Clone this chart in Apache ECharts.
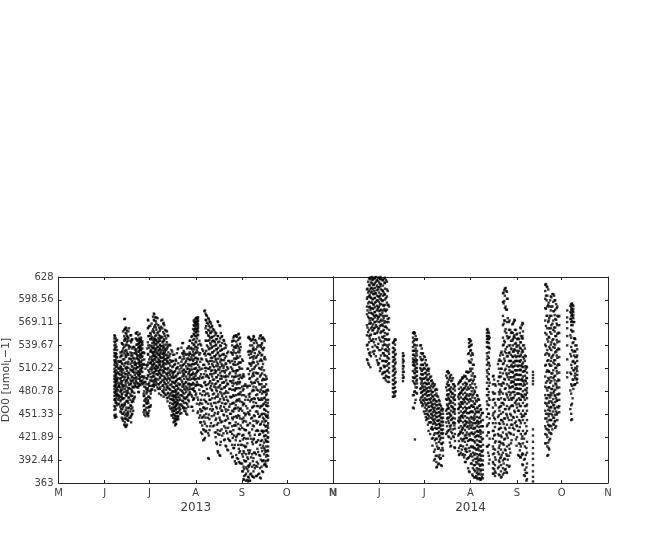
<!DOCTYPE html>
<html>
<head>
<meta charset="utf-8">
<script src="https://cdn.jsdelivr.net/npm/echarts@6/dist/echarts.min.js"></script>
<style>
html, body { margin: 0; padding: 0; background: #fff; }
#main { width: 652px; height: 540px; }
</style>
</head>
<body>
<div id="main"></div>
<script>
// x ticks: days since 1 May
var tickDays = [0, 31, 61, 92, 123, 153, 184];
var tickNames = ['M', 'J', 'J', 'A', 'S', 'O', 'N'];
var doTicks = [363, 392.44, 421.89, 451.33, 480.78, 510.22, 539.67, 569.11, 598.56, 628];

// each row: first number is the day since 1 May, the rest are DO0 readings on that day
var readings2013 = [
[37.5,553,549,545,540,534,530,526,521,515,510,506,501,497,493,488,484,480,475,470,462,457,450],
[38.8,546,538,529,524,518,512,508,503,499,494,490,486,481,477,472,466,448],
[40.1,520,511,505,498,492,487,482,476,470,465],
[41.5,531,525,519,513,507,502,497,491,486,480,474,468,461,455],
[42.8,542,533,527,516,509,500,494,489,483,478,471,464,458,452,445],
[44.1,574,560,552,546,538,530,522,514,505,496,488,480,472,463,454,446,438],
[45.5,562,555,548,541,534,526,518,510,503,495,487,481,475,468,460,452,445,436],
[46.8,558,549,540,528,519,511,504,498,492,485,479,473,466,459,451,443],
[48.2,553,546,538,531,523,516,509,502,496,490,484,477,470,463,455,447],
[49.5,548,536,527,520,513,507,500,494,487,481,475,468,460,452],
[50.8,538,530,523,517,511,505,498,492,486,479,472],
[52.2,555,548,541,535,529,523,517,511,505,499,493,487],
[53.5,553,547,542,537,532,527,522,517,512,507,502,497,491,486,480],
[54.8,548,544,539,534,529,524,519,514,509,504,499,494,489],
[56.2,545,541,536,531,526,521,516,511,506,500,495,490],
[57.5,530,522,515,500,493,487,481,475,469,463,457,451],
[58.9,515,498,490,484,478,472,466,460,454],
[60.2,572,563,552,540,528,518,508,500,490,482,474,466,460,453,449],
[61.5,565,556,548,540,532,525,517,510,503,495,488,481,472,461],
[62.9,558,550,543,537,531,526,521,515,510,505,499,494,488,483],
[64.2,580,572,564,556,549,543,537,532,527,522,516,511,506,500,495,489],
[65.6,576,568,560,553,546,541,536,530,525,519,514,509,503,497,492],
[66.9,566,557,549,544,538,533,528,523,518,512,507,502,496,490,484],
[68.2,561,552,546,540,535,530,525,520,515,509,504,498,492,486],
[69.6,573,562,551,544,539,534,529,524,519,513,508,501,495,488,481],
[70.9,566,555,546,538,533,527,522,517,511,506,500,493,486,479],
[72.2,559,549,541,534,528,522,516,510,504,497,490,483,476],
[73.6,552,540,531,524,517,511,505,498,492,485,479,473],
[74.9,540,529,521,514,508,502,495,489,483,477,471,466,459],
[76.3,532,520,512,505,499,493,487,481,475,470,465,460,455,450],
[77.6,528,515,506,499,492,486,480,475,470,466,461,456,451,446,442],
[78.9,520,510,501,494,488,482,477,472,467,462,458,453,449,444,439],
[80.3,536,517,505,497,491,485,479,474,469,464,459,454,449,445],
[81.6,525,514,505,498,490,483,476,470,464,458,452],
[83,543,530,522,514,507,500,493,487,481,475,469,462],
[84.3,531,523,516,509,503,497,490,484,478,472,466,460,456],
[85.6,528,520,513,506,500,493,487,480,473,466,459,452],
[87,537,529,523,516,510,503,496,490,483,476,470,461],
[88.3,546,536,529,522,515,509,502,496,490,484,478],
[89.6,552,543,535,528,522,516,509,503,497,490,484,474,461],
[91,570,565,559,554,548,541,535,529,522,516,510,503,497,490,481,472],
[92.3,575,570,566,561,557,552,545,538,531,524,517,511,504,497,489,478],
[93.6,576,572,567,563,558,553,541,531,523,515,507,498,489,470,455],
[95,542,530,519,509,500,489,478,466,458,450,441],
[96.3,535,522,510,498,487,476,465,456,447,437,426],
[97.7,584,529,515,503,492,481,470,460,450,442,431,419],
[99,579,572,565,557,546,533,522,511,500,489,478,467,452,430],
[100.3,575,568,560,553,546,538,529,519,510,500,490,478,465,447,427,395],
[101.7,570,563,556,550,543,536,528,520,512,503,494,485,470,458,436],
[103,565,558,551,545,538,531,524,516,508,500,491,482,472,456],
[104.3,560,552,546,539,533,526,519,512,504,496,487,478,466,450,437],
[105.7,556,548,541,535,528,521,514,507,499,491,483,474,461,446,428,415],
[107,570,552,544,537,530,523,516,509,502,494,486,477,467,454,440,426,402],
[108.4,565,549,540,533,526,519,512,505,497,489,480,471,459,444,430,412,398],
[109.7,552,543,535,528,521,514,507,500,492,484,475,466,456,442,424],
[111,546,536,528,521,514,507,500,493,486,478,470,461,450,436,418],
[112.4,540,526,516,508,501,495,488,481,474,465,455,444,430,410],
[113.7,532,520,510,500,490,479,468,457,446,434,420,405],
[115,518,505,494,484,474,464,452,440,429,417],
[116.4,545,540,530,520,510,500,492,483,474,465,456,447,436,426,412,396],
[117.7,552,546,538,531,523,515,507,499,491,483,475,466,458,448,437,424,408],
[119.1,552,545,537,530,523,515,507,500,492,484,476,468,459,449,437,422,399,388],
[120.4,554,547,539,532,524,516,508,501,493,485,477,469,460,450,439,426,412,394],
[121.7,550,542,534,526,518,510,502,493,485,477,468,458,446,432,417,404,389],
[123.1,522,510,498,487,476,467,456,445,434,424,412,400,388,378],
[124.4,500,488,476,465,453,443,432,421,411,402,392,381,372,367],
[125.7,488,474,462,452,442,431,420,410,400,391,383,375,366],
[127.1,550,532,510,488,470,454,438,420,405,394,385,378,371,365],
[128.4,548,540,532,524,516,507,498,488,478,468,456,440,424,405,388,374,366],
[129.8,547,540,532,525,517,509,500,491,481,471,460,447,432,416,400,384,372],
[131,551,543,534,526,518,510,501,492,482,472,462,450,436,420,402,386,370],
[132.4,546,535,524,514,505,495,486,476,466,455,443,430,415,400,385,372],
[133.8,540,528,516,504,493,482,472,462,452,442,430,418,403,388,374],
[135.1,552,540,530,520,510,500,490,480,470,460,449,438,426,412,398,382,370],
[136.5,550,543,536,528,520,512,504,495,486,478,470,462,452,442,430,418,404,391,378],
[137.8,548,537,523,508,496,487,480,472,465,458,452,445,438,430,423,415,408,400,392,386],
[139.2,500,490,482,476,470,463,456,449,443,436,430,424,417,410,404,397,391,385],
[140.5,482,470,462,454,447,440,434,428,422,416,410,404,398,393]
];

var moreReadings2013 = [
[37.9,552,544,537,535,526,519,518,507,499,496,488,487,479,471,470,461,449,447],
[38.3,549,541,530,528,521,513,504,502,493,490,482,476,468,466,458,451],
[39.3,547,534,525,516,514,505,497,495,484,478,475,463],
[40.6,519,510,503,489,487,475,472,464],
[41.9,527,520,512,510,498,494,483,481,470,458,454],
[42.4,543,531,517,506,503,491,477,474,463,447],
[43.3,558,541,536,522,509,500,488,486,472,461,452,443],
[44.5,574,561,549,547,533,517,503,499,484,466,464,450,441,437],
[45,563,556,540,528,525,511,493,490,476,457,446,435],
[45.9,559,552,544,531,512,507,495,479,477,468,449,438],
[46.4,551,546,529,516,501,498,482,469,455,453,444],
[47.3,562,539,536,523,505,489,485,473,460,447],
[48.7,553,544,527,522,508,494,491,475,462,458,449,441],
[49.1,547,530,518,513,499,483,480,467,451],
[50.1,538,524,509,506,496,486,471,468,456],
[51.2,535,519,515,502,490,488,474],
[51.8,556,549,533,530,515,509,498,495],
[52.8,557,546,541,527,524,512,504,491,486],
[53.9,549,543,538,532,521,518,506,501,488,480],
[54.4,555,545,540,535,526,516,513,503,497,490],
[55.3,550,547,537,534,528,519,509,507,494],
[55.9,544,541,530,525,514,511,500,492],
[57.1,531,516,498,491,478,475,462,454],
[58.3,510,493,486,471,468,457,449],
[59.4,536,513,497,483,480,465,452],
[59.9,573,562,544,529,515,502,485,470,468,451],
[60.8,565,552,537,522,506,492,488,474,461,456],
[61.9,554,548,534,519,517,499,482,478,463],
[62.4,568,551,539,532,523,512,508,495,484],
[63.4,577,561,547,536,529,520,514,501,489],
[63.9,581,573,558,545,540,531,526,517,504,492,487],
[64.8,576,566,552,548,535,527,522,510,497,482],
[65.2,571,563,547,542,533,525,513,507,494,489],
[66.3,575,556,544,538,530,519,511,503,486],
[67.4,563,553,546,534,528,521,515,505,490,478],
[67.9,559,549,541,536,527,518,508,499,484],
[68.8,572,564,550,539,532,524,512,502,493,476],
[70.2,568,557,545,537,529,520,516,505,489,480],
[70.5,569,548,541,530,525,514,507,496,483,474],
[71.3,560,552,535,531,522,510,498,491,477],
[72.7,558,544,536,524,519,503,495,486,472],
[73.1,553,538,527,520,509,501,488,478,468],
[74.4,541,526,517,505,497,484,475,462],
[75.7,534,519,507,499,490,479,471,458,450],
[76.8,528,513,502,493,481,476,464,459,447],
[77.1,520,505,498,486,473,469,456,452,441],
[78.2,516,507,491,483,475,467,460,449,443,437],
[78.6,522,500,494,480,474,463,457,446,439],
[79.4,530,511,496,488,470,465,453,445],
[79.9,535,512,503,484,477,466,454,448],
[81.1,524,509,497,489,472,461,456],
[82.4,537,519,511,495,482,476,464,453],
[83.5,543,529,515,504,490,479,468,460],
[83.9,533,526,508,501,487,473,459],
[85.1,529,518,506,492,483,471,455],
[86.3,536,523,510,497,485,474,464,451],
[87.4,539,527,514,505,491,477,468],
[87.9,546,531,521,507,499,487,480],
[89.1,551,537,525,513,502,489,476,461],
[90.2,561,547,532,520,505,492,483,470,456],
[90.6,572,566,555,541,527,516,499,485,471],
[91.5,574,569,561,552,538,524,510,496,481],
[91.9,571,567,563,557,544,530,517,501,488,476],
[92.8,576,573,568,559,549,534,519,506,493,465],
[93.2,575,570,565,561,554,537,522,508,490,473,453],
[94.4,546,528,512,497,483,464,447],
[95.6,540,523,503,488,470,455,441,428],
[97,533,515,499,481,460,448,432,418],
[98.2,585,530,511,493,476,458,439,421],
[98.6,581,573,562,546,527,507,489,468,447,429],
[99.5,578,569,556,540,520,502,484,459,436],
[100.8,574,565,552,535,516,498,475,451,424,394],
[101.2,571,559,547,529,510,492,470,445,431],
[102.2,568,556,541,524,507,488,465,440],
[102.7,564,550,537,520,503,483,462,449],
[103.5,561,546,531,514,496,477,458,436],
[104.8,557,544,526,508,490,472,453,428],
[105.3,554,540,523,505,486,466,444,422],
[106.2,548,535,518,499,481,459,438,413],
[106.7,571,552,531,513,494,474,452,431,404],
[107.9,566,545,527,509,487,468,447,425,399],
[108.8,556,539,522,501,484,462,441,416],
[109.3,551,534,516,497,478,456,432],
[110.6,547,529,511,492,472,451,427],
[111.5,542,524,505,486,465,443,419],
[112,537,517,499,479,458,434,411],
[113.1,530,512,491,470,449,427,406],
[114.5,520,503,484,461,440,418],
[115.6,531,512,494,473,452,429,401],
[116.8,546,528,507,488,466,445,421,397],
[117.2,550,534,516,495,476,455,431,408],
[118.2,552,537,519,500,482,459,437,412,391],
[118.8,553,539,523,504,485,463,441,418,388],
[119.6,551,541,526,508,490,470,447,424,395],
[120.9,555,536,518,497,478,456,433,407,390],
[121.2,549,531,512,491,471,449,426,402],
[122.1,538,518,499,480,459,437,412,388],
[123.6,520,501,482,463,441,419,397,378],
[124,503,484,465,447,425,404,384,368],
[125.2,490,470,450,431,409,391,373],
[126.6,510,486,459,437,414,396,381,367],
[127.6,551,528,503,477,452,427,401,384,370],
[128,549,533,517,497,474,451,428,402,386,366],
[129.1,546,529,514,493,470,446,420,396,375],
[130.3,548,535,519,503,483,461,437,413,391,371],
[130.7,552,537,523,505,487,467,443,419,395,378],
[131.6,547,530,512,492,471,449,425,402,382],
[132.9,543,526,504,483,462,440,416,390,372],
[133.3,538,519,497,477,455,431,407,384],
[134.5,549,532,511,490,470,448,425,399,375],
[135.6,553,538,522,502,483,462,439,417,393,369],
[136.1,548,541,527,509,490,472,451,430,408,384],
[137.1,550,534,516,497,481,464,447,428,411,392,377],
[138.2,546,525,502,487,473,457,442,424,406,388],
[138.7,522,496,480,467,451,436,419,403,387],
[139.6,497,478,462,448,431,416,399,384],
[140.2,483,466,450,437,421,405,392]
];

var readings2014 = [
[22.7,612,600,590,580,566,553,540,522],
[24.1,626,618,610,603,596,589,582,575,568,560,552,544,530,515],
[25.4,627,621,614,608,601,595,588,582,575,569,562,554,546,526],
[26.8,625,618,612,606,600,593,587,580,574,567,560,548,532],
[28.1,627,620,614,607,601,595,589,583,576,570,563,555,540],
[29.4,624,617,611,604,598,591,585,578,571,564,556,538,521],
[30.8,627,621,615,608,602,596,590,584,577,570,562,550,534,517],
[32.1,626,619,612,606,599,593,586,579,573,566,558,545,527,510],
[33.4,624,617,610,604,598,592,585,578,572,565,558,550,540,530,520,505],
[34.8,627,620,613,606,599,592,585,578,571,564,556,548,541,534,527,520,513,506,498],
[36.1,622,612,603,595,586,578,570,562,554,547,540,533,526,520,514,507,500],
[37.5,590,575,560,548,541,535,529,523,517,511,505,499,493],
[40.1,543,537,531,525,519,513,507,501,495,490,485,480,474],
[41.5,548,541,534,528,522,516,510,504,498,492,486,480,475],
[46.8,530,526,522,518,514,510,506,502,498,494],
[53.5,556,550,544,538,533,528,523,519,515,507,499,494,476,460],
[54.8,556,548,540,533,526,520,514,509,504,498,490,481,466,419],
[56.2,548,540,533,527,521,516,511,506,501,496,491,486,478],
[58.9,540,530,522,515,509,503,497,491,485,479,473,467],
[60.2,530,522,515,509,503,497,491,486,481,476,470,464],
[61.5,525,517,510,504,498,492,487,482,477,472,466,460,452],
[62.9,515,508,502,496,490,485,480,475,470,464,458,452,446],
[64.2,510,503,497,491,486,481,476,471,466,461,455,449,441],
[65.6,500,494,488,482,477,472,467,462,457,452,447,441,433],
[66.9,492,486,480,474,469,464,459,454,449,444,439,432,421],
[68.2,490,482,476,470,465,460,455,450,445,440,434,427,418,406,394],
[69.6,483,475,468,463,458,453,448,443,438,433,427,420,410,398,384],
[70.9,470,464,459,454,449,444,439,434,429,423,416,408,396,388],
[72.2,462,457,452,447,442,437,432,427,421,414,405,395,386],
[73.6,458,452,447,442,437,432,427,421,415,405,398],
[76.3,506,498,490,482,476,470,464,458,452,446,436,428],
[77.6,505,496,489,483,477,471,465,459,453,447,440,431,422],
[79,502,494,486,480,474,468,462,456,450,444,437,429,420,411],
[80.3,498,490,484,478,472,466,460,454,447,440,432,423],
[81.6,488,482,476,470,464,458,452,446,440,433,426,417,408],
[84.3,492,484,477,471,465,459,453,447,441,434,426,417,408,399],
[85.6,494,486,479,473,467,461,455,449,443,436,428,420,411,402],
[87,498,490,483,477,471,465,459,453,447,441,434,427,419,410,400],
[88.3,500,492,485,479,473,467,461,455,449,443,437,431,424,416,407,399,390],
[89.6,506,497,490,483,477,471,465,459,453,447,441,435,428,421,412,403,394],
[91,548,543,538,530,520,506,494,484,475,467,460,453,446,440,433,426,418,408,396,378],
[92.3,546,540,534,527,518,507,496,486,477,469,462,455,448,441,434,427,419,410,400,388],
[93.6,528,515,504,494,485,476,468,461,454,447,440,433,426,418,410,402,392,382,372],
[95,500,490,480,472,465,458,452,446,440,434,428,422,415,408,401,394,386,378,370],
[96.3,476,468,460,454,448,442,436,430,424,418,412,406,400,394,388,382,376,370],
[97.7,470,462,454,447,441,435,429,423,417,411,405,399,393,387,381,375,369],
[99,458,450,443,436,429,422,416,410,404,398,392,386,380,374,368],
[100.3,453,444,436,428,420,412,405,398,392,386,380,374,369],
[103,560,556,552,548,544,538,530,522,515,508,500,492,484,476,468,458,448,436,424,410],
[104.3,556,552,548,543,537,531,524,517,510,503,496,488,480,472,463,452,440,428,412,398,388],
[107,500,490,480,470,460,450,440,430,420,410,400,390,382,375],
[108.4,490,478,466,455,445,435,425,415,406,396,386,378,372],
[111,520,510,500,490,480,470,460,450,440,432,424,416,408,400,392,384,374],
[112.4,530,520,510,500,490,480,472,462,452,444,434,424,414,406,396,386,378,370],
[113.7,607,596,578,566,550,540,528,516,504,492,478,466,454,442,428,414,402,392,382,374],
[115,613,604,588,572,558,544,532,520,508,496,484,470,458,446,434,420,406,394,380],
[116.4,609,600,586,570,552,538,526,514,502,490,476,462,450,438,424,410,398,386,376],
[117.7,570,560,550,540,530,520,512,504,496,488,480,470,458,444,428,412,398,384],
[119.1,556,546,536,528,520,513,506,499,492,486,479,472,462,450,438,426,414],
[120.4,568,556,548,540,532,525,518,512,505,499,493,487,480,472,462,448,434],
[121.7,572,560,550,542,534,527,520,514,508,502,496,490,484,476,466,454,440],
[123.1,555,548,540,533,526,520,514,508,502,496,490,484,478,470,460,448,436,422],
[124.4,548,540,533,526,520,514,508,502,496,490,484,478,472,465,456,444,430,414,398],
[125.7,562,552,544,536,528,521,514,508,502,496,490,484,477,470,462,452,440,426,410,396],
[127.1,568,558,549,540,532,525,518,512,506,500,494,488,481,474,466,456,444,430,414,400,386],
[128.4,536,527,520,513,507,501,495,489,483,477,470,462,452,440,426,410,394,380,372],
[129.8,512,505,498,491,485,479,472,464,456,444,430,416,402,388,376,368],
[133.8,506,502,498,494,490,432,424,416,408,401,394,386,378,371,365],
[142,618,610,600,588,572,556,541,528,514,500,487,476,466,456,446,436,426,414],
[143.4,615,604,590,578,562,548,534,520,508,494,482,472,462,452,442,432,422,410,398],
[144.7,590,575,562,550,538,527,516,506,496,486,476,468,460,452,444,436,428,418,406],
[146.1,602,590,578,566,555,544,534,524,514,504,494,484,476,468,460,452,444,436,426],
[147.4,606,596,584,572,560,548,538,528,518,508,498,488,479,471,463,455,447,439],
[148.7,598,586,574,563,552,541,531,521,511,501,491,483,475,467,459,451,443,434],
[150.1,590,578,566,555,544,534,524,514,504,494,485,477,469,461,453,444],
[151.4,578,566,556,545,535,525,515,505,495,486,478,470,462,454],
[156.7,585,576,570,562,552,540,522,505,499],
[159.4,593,589,586,582,578,574,570,566,560,550,538,526,515,503,490,478,463,452,444],
[160.8,591,587,583,579,575,570,558,544,532,520,508,496,484],
[162.1,548,540,532,525,518,511,504,498,490],
[163.4,535,527,520,513,507,502,497,492]
];

var moreReadings2014 = [
[23.1,613,602,585,563,541,521],
[23.5,622,608,594,577,557,535,517],
[24.6,627,617,605,590,572,549,528],
[25,625,612,602,586,568,553,531,512],
[26.1,628,620,609,595,581,564,546],
[26.4,624,614,599,588,573,559,538],
[27.4,627,618,606,592,578,562,544,529],
[27.8,626,610,601,583,570,555,533],
[28.7,628,622,607,596,579,566,548,526],
[29.9,623,615,598,587,574,558,537,518],
[30.3,627,612,603,589,576,561,542,515],
[31.4,625,619,604,593,580,565,547,523,507],
[31.8,628,616,600,585,571,556,534,511],
[33,624,611,597,582,567,551,536,520,503],
[33.9,626,608,591,575,560,545,530,514,498],
[34.4,621,605,587,569,552,541,527,512,505],
[35.4,624,601,584,564,548,535,519,501,495],
[36.6,610,592,574,555,538,524,508,493],
[37.1,592,570,547,532,516,499],
[40.6,544,532,521,509,496,485,474],
[40.9,546,536,525,513,502,490,478],
[41.9,547,529,518,506,493,481],
[47.3,527,520,513,506,499],
[54.1,557,546,533,521,514,498,476,459],
[54.4,555,541,528,517,505,492,480],
[55.3,552,536,523,511,500,486,470],
[55.8,547,530,519,507,494,479],
[58.4,540,525,511,498,484,470],
[59.4,536,521,507,494,480,466],
[59.8,529,515,502,488,474,462],
[60.8,526,511,497,483,469,455],
[62.1,521,505,491,478,463,448],
[62.4,514,499,484,470,456,444],
[63.5,510,495,481,466,451,438],
[63.9,507,491,476,461,446,430],
[65,499,485,470,456,441,426],
[66.2,495,480,465,451,435,420],
[66.5,490,475,461,446,432,411],
[67.6,488,471,457,442,425,403,392],
[68.8,484,468,453,438,420,398],
[69.2,478,463,448,433,414,390,383],
[70.3,474,459,443,427,407,387],
[71.3,468,454,439,424,399],
[71.7,464,450,436,419,394],
[72.8,459,446,431,413,385],
[73.2,456,441,426,408],
[75.7,501,486,471,456,441,426],
[76.8,507,493,477,462,447,430],
[77.2,504,488,473,459,443,423],
[78.2,500,484,469,452,436,415],
[78.6,498,481,466,449,433,410],
[79.7,495,478,461,445,427],
[80.8,490,474,458,441,422],
[81.2,486,470,455,437,409],
[83.8,490,474,458,443,424,404],
[84.7,493,477,461,444,426,400],
[85.2,495,479,463,447,429,411],
[86.2,497,481,465,449,431,406],
[86.6,499,483,467,450,433,417,399],
[87.7,501,485,470,454,437,420,396],
[88.8,500,488,472,456,439,421,404,390],
[89.2,506,491,475,459,442,425,407],
[90.4,529,505,486,470,453,436,417,395,382],
[91.4,548,539,518,495,477,460,443,424,404,377],
[91.8,545,533,510,489,471,454,437,419,398],
[92.8,541,522,501,481,463,446,428,409,388],
[93.2,530,510,491,473,455,437,418,397,374],
[94.2,515,496,478,461,444,426,408,386],
[94.6,500,482,465,449,433,417,399,380,370],
[95.7,486,469,455,440,423,406,390,372],
[96.7,475,459,443,429,412,396,379,368],
[97.2,471,455,439,424,408,391,374],
[98.4,463,447,431,416,400,385,369],
[98.7,457,441,426,410,394,378,367],
[99.7,453,436,419,403,387,371],
[103.4,561,552,544,526,505,484,464,438,410],
[103.8,558,549,538,518,497,476,452,428,402],
[104.8,550,536,514,492,470,446,420,393],
[107.4,501,478,453,430,407,388,375],
[107.8,496,471,447,424,401,381],
[108.8,488,463,440,417,393,376],
[110.4,516,494,471,448,426,403,382],
[111.4,522,499,477,456,433,411,390,373],
[111.8,527,505,483,461,439,416,395],
[112.8,532,510,488,466,444,422,399,371],
[114.2,608,594,568,541,517,491,464,439,412,388],
[114.6,611,597,572,546,523,497,471,446,419,394,376],
[115.5,614,590,561,535,510,485,458,432,405,381],
[116,610,586,556,530,504,478,452,426,400,377],
[116.9,600,575,549,526,499,473,447,421,393],
[118.1,572,551,531,508,485,460,434,407,385],
[118.6,560,540,520,499,476,452,427,402],
[119.5,557,535,515,494,470,444,418],
[120,567,546,526,506,487,463,438],
[120.9,570,551,532,513,493,473,447,425],
[121.3,573,553,535,518,500,480,456,432],
[122.4,560,543,525,508,489,468,442,419],
[122.8,554,538,520,503,485,464,437,411],
[123.8,549,530,513,496,478,456,430,399],
[125,556,537,519,502,484,462,435,405],
[125.3,563,544,526,509,490,470,443,413,396],
[126.3,566,549,531,513,495,474,448,420,399],
[126.7,569,552,534,516,497,476,450,423,401,387],
[127.8,540,523,507,491,473,449,420,393,373],
[129,526,510,494,476,452,427,399,376],
[129.4,513,498,482,462,436,408,383,366],
[142.5,619,604,587,565,539,515,492,472,452,433,414],
[142.9,616,598,578,554,530,506,485,465,446,425],
[144,612,592,570,545,521,498,476,457,438,415,399],
[144.3,595,572,551,529,507,486,466,449,431,408],
[145.3,598,578,557,536,514,492,473,456,437,420],
[145.7,603,585,562,541,520,499,479,461,444,427],
[146.8,606,590,568,547,526,504,484,466,450,432],
[147.9,604,584,563,542,521,500,481,463,447,438],
[148.3,598,579,558,537,516,495,476,459,442],
[149.3,593,573,552,532,511,490,472,455,436],
[149.7,588,568,547,527,507,487,469,451],
[150.8,577,556,536,516,496,477,460],
[158.8,591,583,574,553,529,505,482,458],
[159.9,594,587,580,571,558,534,511,488,465,445],
[160.3,592,584,577,566,543,519,496,472],
[161.4,570,549,527,508,489],
[161.8,549,533,517,501,490],
[163,540,525,510,496]
];

function flatten(rows) {
    var points = [];
    rows.forEach(function (row) {
        for (var i = 1; i < row.length; i++) {
            points.push([row[0], row[i]]);
        }
    });
    return points;
}

var inkColor = '#262626';
var labelColor = '#404040';
var fontName = '"DejaVu Sans"';

// bottom/left axes carry the labels, top/right ones only repeat the ticks
function xAxisFor(gridIndex, position, title) {
    var axis = {
        type: 'value',
        gridIndex: gridIndex,
        position: position,
        min: 0,
        max: 184,
        splitLine: { show: false },
        axisLine: { show: true, onZero: false, lineStyle: { color: inkColor, width: 1 } },
        axisTick: { show: true, inside: true, length: 3, customValues: tickDays, lineStyle: { color: inkColor } },
        axisLabel: { show: false }
    };
    if (title) {
        axis.axisLabel = {
            show: true,
            customValues: tickDays,
            hideOverlap: false,
            margin: 5,
            color: labelColor,
            fontFamily: fontName,
            fontSize: 10,
            formatter: function (value) {
                return tickNames[tickDays.indexOf(value)];
            }
        };
        axis.name = title;
        axis.nameLocation = 'middle';
        axis.nameGap = 19;
        axis.nameTextStyle = { color: labelColor, fontFamily: fontName, fontSize: 12 };
    }
    return axis;
}

function yAxisFor(gridIndex, position, withLabels) {
    var axis = {
        type: 'value',
        gridIndex: gridIndex,
        position: position,
        min: 363,
        max: 628,
        splitLine: { show: false },
        axisLine: { show: true, onZero: false, lineStyle: { color: inkColor, width: 1 } },
        axisTick: { show: true, inside: true, length: 3, customValues: doTicks, lineStyle: { color: inkColor } },
        axisLabel: { show: false }
    };
    if (withLabels) {
        axis.axisLabel = {
            show: true,
            customValues: doTicks,
            hideOverlap: false,
            margin: 5,
            color: labelColor,
            fontFamily: fontName,
            fontSize: 10,
            formatter: function (value) {
                return String(value);
            }
        };
        axis.name = '{a|DO0 [umol}{s|L}{a|−1]}';
        axis.nameLocation = 'middle';
        axis.nameGap = 46;
        axis.nameTextStyle = {
            rich: {
                a: { color: labelColor, fontFamily: fontName, fontSize: 11 },
                s: { color: labelColor, fontFamily: fontName, fontSize: 8, verticalAlign: 'bottom', padding: [4, 0, 0, 0] }
            }
        };
    }
    return axis;
}

var myChart = echarts.init(document.getElementById('main'), null, { renderer: 'canvas' });
myChart.setOption({
    animation: false,
    backgroundColor: '#fff',
    grid: [
        { left: 57, top: 277, width: 276, height: 206 },
        { left: 333, top: 277, width: 275, height: 206 }
    ],
    xAxis: [
        xAxisFor(0, 'bottom', '2013'),
        xAxisFor(0, 'top'),
        xAxisFor(1, 'bottom', '2014'),
        xAxisFor(1, 'top')
    ],
    yAxis: [
        yAxisFor(0, 'left', true),
        yAxisFor(0, 'right'),
        yAxisFor(1, 'left'),
        yAxisFor(1, 'right')
    ],
    series: [
        {
            type: 'scatter',
            xAxisIndex: 0,
            yAxisIndex: 0,
            symbol: 'rect',
            symbolSize: 2.4,
            itemStyle: { color: '#000' },
            data: flatten(readings2013).concat(flatten(moreReadings2013))
        },
        {
            type: 'scatter',
            xAxisIndex: 2,
            yAxisIndex: 2,
            symbol: 'rect',
            symbolSize: 2.4,
            itemStyle: { color: '#000' },
            data: flatten(readings2014).concat(flatten(moreReadings2014))
        }
    ]
});
</script>
</body>
</html>
